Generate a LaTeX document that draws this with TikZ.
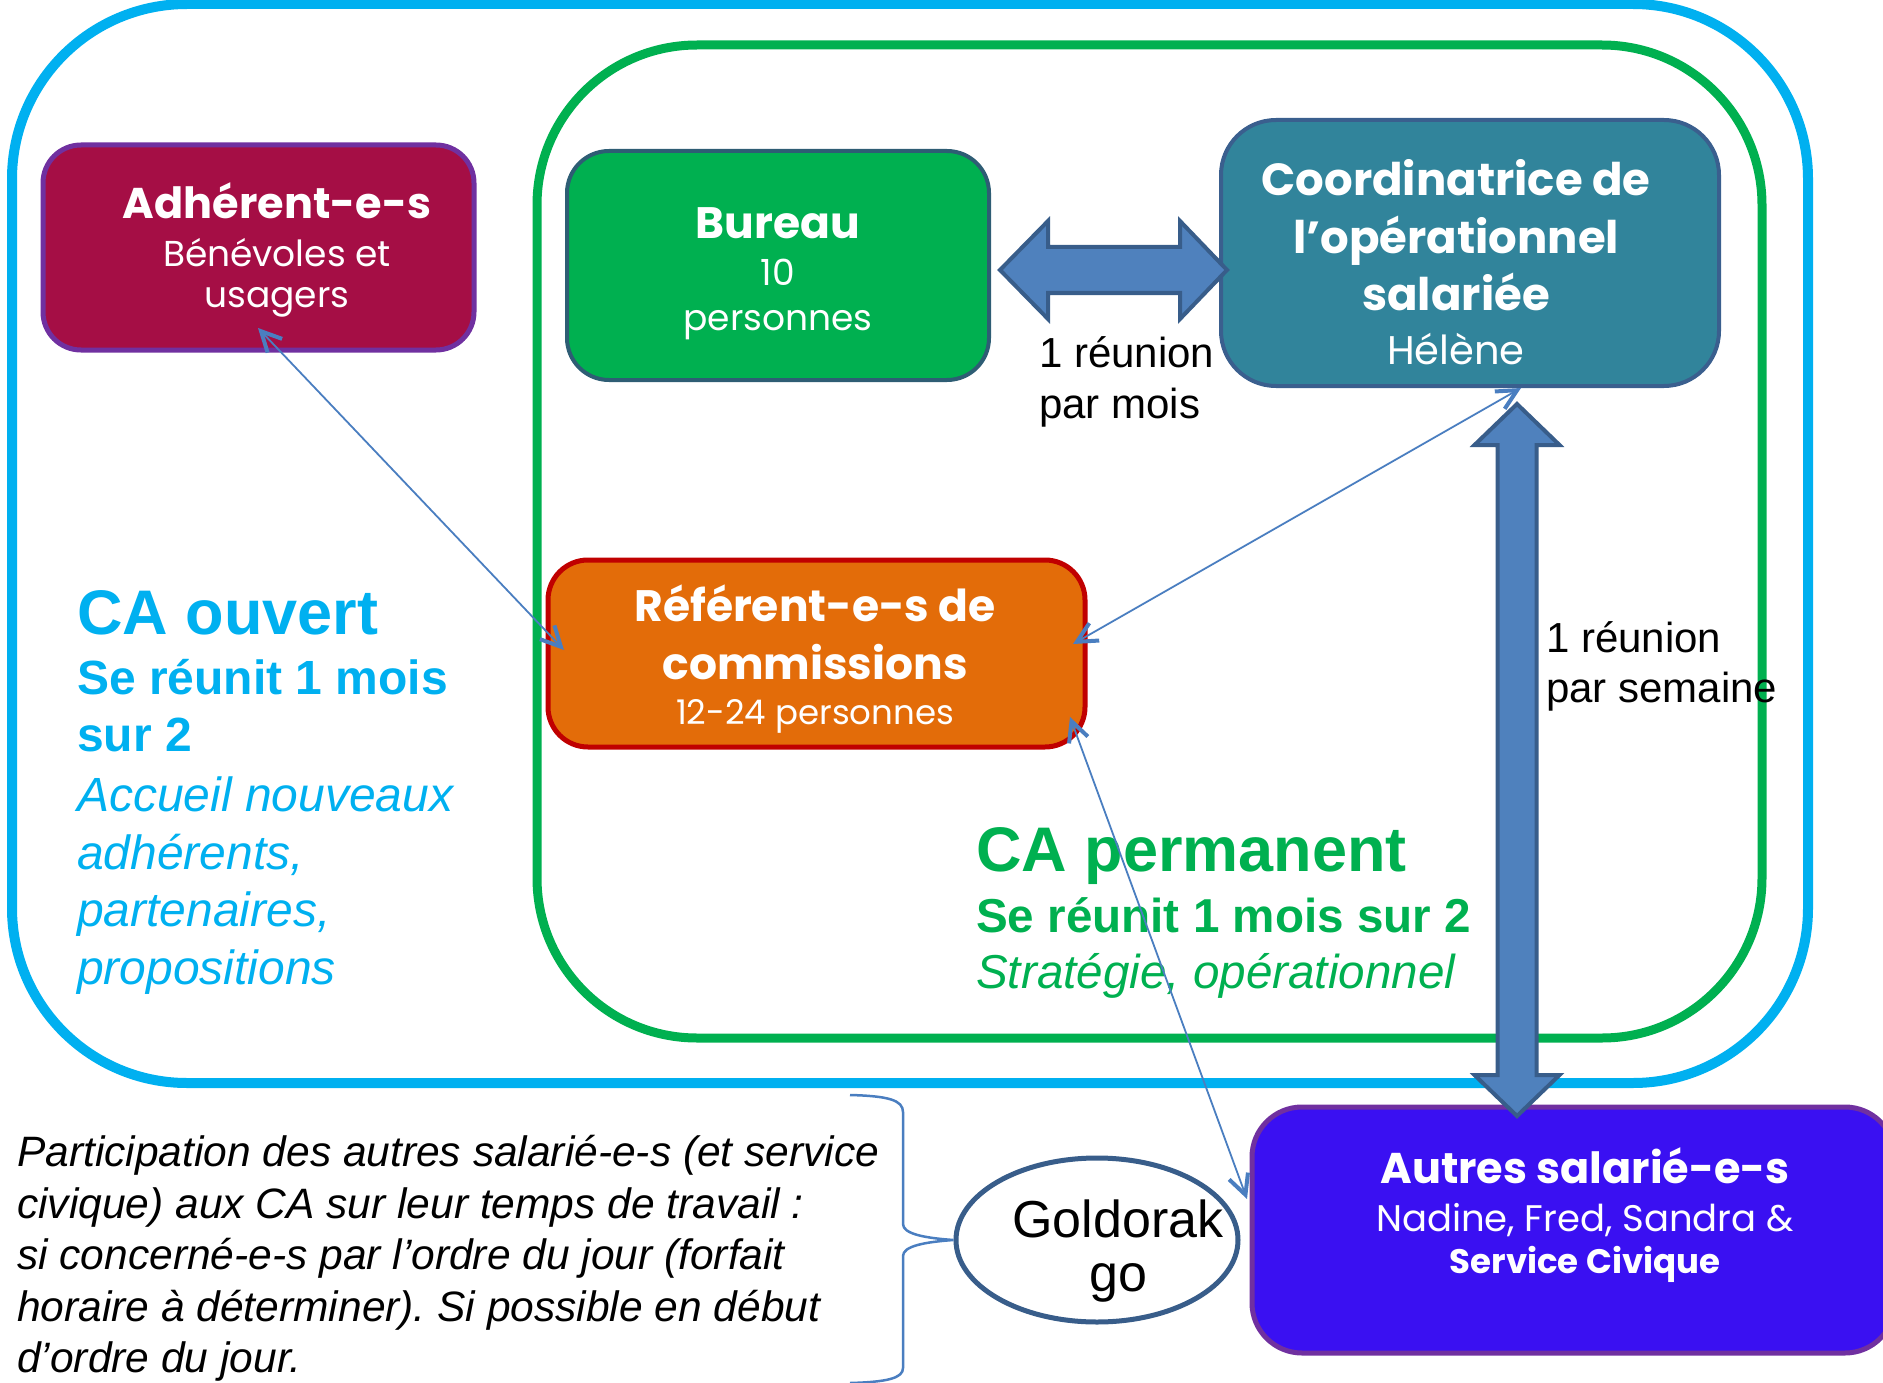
\documentclass[tikz,border=0pt]{standalone}
\usepackage{fontspec}
\setmainfont{Liberation Sans}
\newfontfamily\goth{Poppins}
\usetikzlibrary{arrows.meta,shapes.geometric}
\definecolor{cablue}{HTML}{00B0F0}
\definecolor{cagreen}{HTML}{00B050}
\definecolor{adhfill}{HTML}{A50E45}
\definecolor{purp}{HTML}{7030A0}
\definecolor{burline}{HTML}{2E5D74}
\definecolor{coofill}{HTML}{31849B}
\definecolor{cooline}{HTML}{3A5F8E}
\definecolor{arrfill}{HTML}{4F81BD}
\definecolor{arrline}{HTML}{385D8A}
\definecolor{reffill}{HTML}{E36C09}
\definecolor{refline}{HTML}{C00000}
\definecolor{autfill}{HTML}{3A10F2}
\definecolor{connc}{HTML}{4A7EC0}
\newcommand\fs[1]{\fontsize{#1}{#1}\selectfont}
\frenchspacing
\begin{document}
\begin{tikzpicture}[x=1pt,y=-1pt,
  frame/.style={draw, inner sep=0pt, outer sep=0pt},
  box/.style={draw, inner sep=0pt, outer sep=0pt},
  tc/.style={inner sep=0pt, anchor=base},
  tl/.style={inner sep=0pt, anchor=base west},
  bigarr/.style={fill=arrfill, draw=arrline, line width=4pt, line join=miter},
  conn/.style={draw=connc, line width=1.8pt,
     {Straight Barb[length=20pt,width=20pt,line width=4pt]}-{Straight Barb[length=20pt,width=20pt,line width=4pt]}},
  bracest/.style={draw=connc, line width=2.5pt}]
\useasboundingbox (0,0) rectangle (1883,1383);
% frames
\node[frame, draw=cablue, line width=10pt, rounded corners=175pt, minimum width=1796pt, minimum height=1079pt] (caouv) at (910,543.5) {};
\node[frame, draw=cagreen, line width=9pt, rounded corners=160pt, minimum width=1225pt, minimum height=993pt] (caperm) at (1149.5,541.5) {};
% boxes
\node[box, fill=adhfill, draw=purp, line width=5pt, rounded corners=38pt, minimum width=431pt, minimum height=205pt] (adh) at (258.5,247.5) {};
\node[box, fill=cagreen, draw=burline, line width=4pt, rounded corners=42pt, minimum width=422pt, minimum height=229pt] (bur) at (778,265.5) {};
\node[box, fill=coofill, draw=cooline, line width=4pt, rounded corners=55pt, minimum width=498pt, minimum height=266pt] (coo) at (1470,253) {};
\node[box, fill=reffill, draw=refline, line width=5pt, rounded corners=40pt, minimum width=537pt, minimum height=187pt] (ref) at (816.5,653.5) {};
\node[box, fill=autfill, draw=purp, line width=5pt, rounded corners=50pt, minimum width=643pt, minimum height=246pt] (aut) at (1573.5,1230) {};
\node[ellipse, draw=arrline, fill=white, line width=5pt, minimum width=282pt, minimum height=164pt, inner sep=0pt] (gol) at (1097,1240) {};
% box texts
\node[tc,text=white] (adh1) at (277,219) {\goth\bfseries\fs{43}Adhérent-e-s};
\node[tc,text=white] (adh2) at (277,266) {\goth\fs{36}Bénévoles et};
\node[tc,text=white] (adh3) at (277,308) {\goth\fs{36}usagers};
\node[tc,text=white] (bur1) at (778,239) {\goth\bfseries\fs{44}Bureau};
\node[tc,text=white] (bur2) at (778,286) {\goth\fs{36}10};
\node[tc,text=white] (bur3) at (778,330) {\goth\fs{36}personnes};
\node[tc,text=white] (coo1) at (1456,196) {\goth\bfseries\fs{45}Coordinatrice de};
\node[tc,text=white] (coo2) at (1456,254) {\goth\bfseries\fs{45}l’opérationnel};
\node[tc,text=white] (coo3) at (1456,310) {\goth\bfseries\fs{45}salariée};
\node[tc,text=white] (coo4) at (1456,364) {\goth\fs{40}Hélène};
\node[tc,text=white] (ref1) at (815,621) {\goth\bfseries\fs{44}Référent-e-s de};
\node[tc,text=white] (ref2) at (815,679) {\goth\bfseries\fs{44}commissions};
\node[tc,text=white] (ref3) at (815,724) {\goth\fs{34}12-24 personnes};
\node[tc,text=white] (aut1) at (1585,1183) {\goth\bfseries\fs{43}Autres salarié-e-s};
\node[tc,text=white] (aut2) at (1585,1231) {\goth\fs{37}Nadine, Fred, Sandra \&};
\node[tc,text=white] (aut3) at (1585,1273) {\goth\bfseries\fs{34}Service Civique};
\node[tc] (gol1) at (1118,1237) {\fs{52}Goldorak};
\node[tc] (gol2) at (1118,1291) {\fs{52}go};
% big arrows
\draw[bigarr] (1000,270) -- (1048,221) -- (1048,247) -- (1180,247) -- (1180,221) -- (1227,270) -- (1180,319) -- (1180,293) -- (1048,293) -- (1048,319) -- cycle;
\draw[bigarr] (1517,404) -- (1559.5,445) -- (1536.5,445) -- (1536.5,1075) -- (1559.5,1075) -- (1517,1116) -- (1474.5,1075) -- (1497.5,1075) -- (1497.5,445) -- (1474.5,445) -- cycle;
% labels
\node[tl] (rm1) at (1039,367) {\fs{42}1 réunion};
\node[tl] (rm2) at (1039,418) {\fs{42}par mois};
\node[tl] (rs1) at (1546,652) {\fs{42}1 réunion};
\node[tl] (rs2) at (1546,702) {\fs{42}par semaine};
% CA ouvert
\node[tl,text=cablue] (co1) at (77,634) {\bfseries\fs{63}CA ouvert};
\node[tl,text=cablue] (co2) at (77,694) {\bfseries\fs{48}Se réunit 1 mois};
\node[tl,text=cablue] (co3) at (77,751) {\bfseries\fs{48}sur 2};
\node[tl,text=cablue] (co4) at (77,811) {\itshape\fs{48}Accueil nouveaux};
\node[tl,text=cablue] (co5) at (77,869) {\itshape\fs{48}adhérents,};
\node[tl,text=cablue] (co6) at (77,926) {\itshape\fs{48}partenaires,};
\node[tl,text=cablue] (co7) at (77,984) {\itshape\fs{48}propositions};
% CA permanent
\node[tl,text=cagreen] (cp1) at (976,871) {\bfseries\fs{63}CA permanent};
\node[tl,text=cagreen] (cp2) at (976,932) {\bfseries\fs{47.6}Se réunit 1 mois sur 2};
\node[tl,text=cagreen] (cp3) at (976,988) {\itshape\fs{47.6}Stratégie, opérationnel};
% paragraph
\node[tl] (p1) at (17,1166) {\itshape\fs{42.5}Participation des autres salarié-e-s (et service};
\node[tl] (p2) at (17,1218) {\itshape\fs{42.5}civique) aux CA sur leur temps de travail :};
\node[tl] (p3) at (17,1269) {\itshape\fs{42.5}si concerné-e-s par l’ordre du jour (forfait};
\node[tl] (p4) at (17,1321) {\itshape\fs{42.5}horaire à déterminer). Si possible en début};
\node[tl] (p5) at (17,1372) {\itshape\fs{42.5}d’ordre du jour.};
% connectors
\coordinate (c1a) at (258,328);
\coordinate (c1b) at (564,650);
\coordinate (c2a) at (1521,388);
\coordinate (c2b) at (1073,644);
\coordinate (c3a) at (1070,717);
\coordinate (c3b) at (1247,1199);
\draw[conn] (c1a) -- (c1b);
\draw[conn] (c2a) -- (c2b);
\draw[conn] (c3a) -- (c3b);
% brace
\draw[bracest] (850,1095) .. controls (888,1096) and (903,1100) .. (903,1112) -- (903,1224) .. controls (903,1234) and (925,1238) .. (gol.west) .. controls (925,1242) and (903,1246) .. (903,1256) -- (903,1368) .. controls (903,1378) and (888,1382) .. (850,1383);
\end{tikzpicture}
\end{document}
